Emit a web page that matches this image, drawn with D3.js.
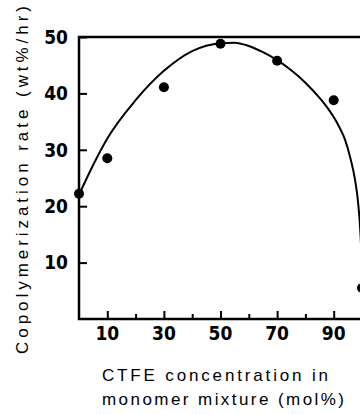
<!DOCTYPE html>
<html>
<head>
<meta charset="utf-8">
<script src="https://cdn.jsdelivr.net/npm/d3@7"></script>
<style>
  body { margin: 0; background: #fff; }
  svg { display: block; }
</style>
</head>
<body>
<div id="chart"></div>
<script>
// measured points
let ctfe = [0, 10, 30, 50, 70, 90, 100];
let rate = [22.2, 28.5, 41.1, 48.8, 45.8, 38.8, 5.5];

// fitted curve
let curveX = [0, 5, 10, 20, 30, 40, 50, 55, 60, 65, 70, 75, 80, 85, 88, 90, 92, 94, 96, 97.5, 98.5, 99.2, 99.7, 100];
let curveY = [22, 27.3, 32, 38.8, 44, 47.5, 48.9, 49, 48.4, 47.3, 45.9, 44.1, 41.9, 39.2, 37.3, 35.8, 34.0, 31.8, 28.3, 24.8, 21.2, 17.2, 12.5, 7];

let yTicks = [10, 20, 30, 40, 50];
let xTicks = [10, 30, 50, 70, 90];
let xMinor = [20, 40, 60, 80];

let width = 360, height = 414;

let svg = d3.select('#chart').append('svg')
    .attr('width', width)
    .attr('height', height);

let x = d3.scaleLinear().domain([0, 100]).range([79, 362]);
let y = d3.scaleLinear().domain([0, 50]).range([319, 37]);

let tickFont = '"Liberation Sans Narrow", "DejaVu Sans Condensed", sans-serif';
let titleFont = '"Liberation Sans", Arial, sans-serif';

// frame: left, top, bottom
svg.append('path')
    .attr('d', 'M' + width + ',' + y(50) + 'H' + x(0) + 'V' + y(0) + 'H' + width)
    .attr('fill', 'none')
    .attr('stroke', '#000')
    .attr('stroke-width', 2.5);

// y axis (ticks point inward)
let yAxis = svg.append('g')
    .attr('transform', 'translate(' + x(0) + ',0)')
    .call(d3.axisRight(y).tickValues(yTicks).tickSize(8).tickFormat(''));
yAxis.select('.domain').remove();
yAxis.selectAll('line').attr('stroke-width', 2);

svg.append('g').selectAll('text')
    .data(yTicks)
    .enter().append('text')
    .attr('x', 68)
    .attr('y', d => y(d))
    .attr('dy', '0.36em')
    .attr('text-anchor', 'end')
    .attr('font-family', tickFont)
    .attr('font-weight', 'bold')
    .attr('font-size', 19)
    .text(d => d);

// x axis
let xAxis = svg.append('g')
    .attr('transform', 'translate(0,' + y(0) + ')')
    .call(d3.axisTop(x).tickValues(xTicks).tickSize(8).tickFormat(''));
xAxis.select('.domain').remove();
xAxis.selectAll('line').attr('stroke-width', 2);

let xAxisMinor = svg.append('g')
    .attr('transform', 'translate(0,' + y(0) + ')')
    .call(d3.axisTop(x).tickValues(xMinor).tickSize(5).tickFormat(''));
xAxisMinor.select('.domain').remove();
xAxisMinor.selectAll('line').attr('stroke-width', 2);

svg.append('g').selectAll('text')
    .data(xTicks)
    .enter().append('text')
    .attr('x', d => x(d))
    .attr('y', 340)
    .attr('text-anchor', 'middle')
    .attr('font-family', tickFont)
    .attr('font-weight', 'bold')
    .attr('font-size', 19)
    .text(d => d);

// fitted curve
let curveData = curveX.map((d, i) => ({x: d, y: curveY[i]}));
let line = d3.line()
    .x(d => x(d.x))
    .y(d => y(d.y))
    .curve(d3.curveMonotoneX);

svg.append('path')
    .datum(curveData)
    .attr('d', line)
    .attr('fill', 'none')
    .attr('stroke', '#000')
    .attr('stroke-width', 2);

// points
svg.append('g').selectAll('circle')
    .data(ctfe.map((d, i) => ({x: d, y: rate[i]})))
    .enter().append('circle')
    .attr('cx', d => x(d.x))
    .attr('cy', d => y(d.y))
    .attr('r', 5)
    .attr('fill', '#000');

// axis titles
svg.append('text')
    .attr('transform', 'translate(28,180) rotate(-90)')
    .attr('text-anchor', 'middle')
    .attr('font-family', titleFont)
    .attr('font-size', 17)
    .attr('textLength', 348)
    .attr('lengthAdjust', 'spacing')
    .text('Copolymerization rate (wt%/hr)');

svg.append('text')
    .attr('x', 102)
    .attr('y', 381)
    .attr('font-family', titleFont)
    .attr('font-size', 17)
    .attr('textLength', 226)
    .attr('lengthAdjust', 'spacing')
    .text('CTFE concentration in');

svg.append('text')
    .attr('x', 102)
    .attr('y', 405)
    .attr('font-family', titleFont)
    .attr('font-size', 17)
    .attr('textLength', 242)
    .attr('lengthAdjust', 'spacing')
    .text('monomer mixture (mol%)');
</script>
</body>
</html>
